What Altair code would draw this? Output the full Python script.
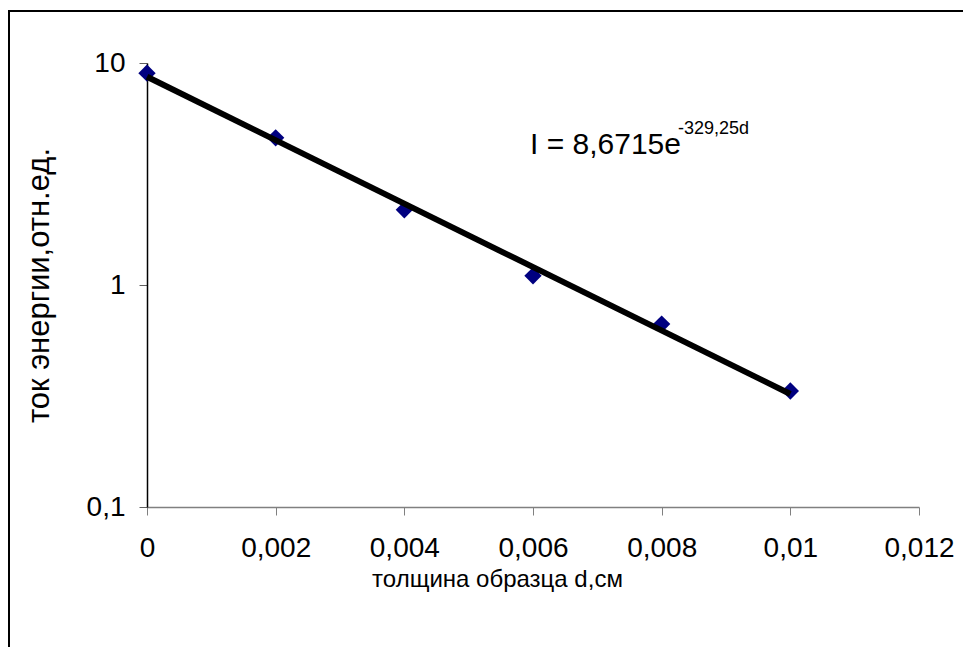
import altair as alt
import pandas as pd

# measured data (thickness d, cm ; relative energy flux)
d_vals = [0.0, 0.002, 0.004, 0.006, 0.008, 0.010]
i_vals = [9.0, 4.6, 2.18, 1.1, 0.667, 0.333]

# exponential trend line end points (I = 8,6715 e^(-329,25 d))
fit_d = [0.0, 0.010]
fit_i = [8.67, 0.323]

x_ticks = [0, 0.002, 0.004, 0.006, 0.008, 0.01, 0.012]
y_ticks = [0.1, 1, 10]

x_title = "толщина образца d,см"
y_title = "ток энергии,отн.ед."
eq_main = "I = 8,6715e"
eq_sup = "-329,25d"

FONT = "Liberation Sans"
W, H = 772, 444

pts = pd.DataFrame({"d": d_vals, "I": i_vals})
fit = pd.DataFrame({"d": fit_d, "I": fit_i})
one = pd.DataFrame({"k": [0]})

xscale = alt.Scale(domain=[0, 0.012], nice=False, zero=False)
yscale = alt.Scale(type="log", domain=[0.1, 10], nice=False)

xaxis = alt.Axis(
    values=x_ticks, grid=False, title=x_title,
    labelExpr="replace(format(datum.value, '~g'), '.', ',')",
    domainColor="#808080", tickColor="#808080", tickSize=8, domainWidth=1.5,
    labelFont=FONT, labelFontSize=28, labelColor="black", labelPadding=19,
    labelFlush=False, labelOverlap=False,
    titleFont=FONT, titleFontSize=24, titleFontWeight="normal", titleColor="black",
    titleX=350, titleY=72, titleBaseline="middle", titleAlign="center",
)
yaxis = alt.Axis(
    values=y_ticks, grid=False, title=y_title,
    labelExpr="replace(format(datum.value, '~g'), '.', ',')",
    domainColor="black", tickColor="#606060", tickSize=8, domainWidth=1.5,
    labelFont=FONT, labelFontSize=28, labelColor="black", labelPadding=14,
    labelFlush=False, labelOverlap=False,
    titleFont=FONT, titleFontSize=31, titleFontWeight="normal", titleColor="black",
    titleX=-108, titleY=222, titleBaseline="middle", titleAlign="center", titleAngle=-90,
)

points = alt.Chart(pts).mark_point(
    shape="diamond", filled=True, color="#000080", size=300, opacity=1
).encode(
    x=alt.X("d:Q", scale=xscale, axis=xaxis),
    y=alt.Y("I:Q", scale=yscale, axis=yaxis),
)

line = alt.Chart(fit).mark_line(color="black", strokeWidth=6).encode(
    x=alt.X("d:Q", scale=xscale),
    y=alt.Y("I:Q", scale=yscale),
)

eq1 = alt.Chart(one).mark_text(
    text=eq_main, font=FONT, fontSize=30, align="left", baseline="alphabetic", color="black"
).encode(x=alt.value(383), y=alt.value(91))

eq2 = alt.Chart(one).mark_text(
    text=eq_sup, font=FONT, fontSize=18, align="left", baseline="alphabetic", color="black"
).encode(x=alt.value(531), y=alt.value(71))

border_left = alt.Chart(one).mark_rule(color="black", strokeWidth=2).encode(
    x=alt.value(-138), y=alt.value(-52), y2=alt.value(H + 140)
)
border_top = alt.Chart(one).mark_rule(color="black", strokeWidth=2).encode(
    x=alt.value(-139), x2=alt.value(W + 44), y=alt.value(-52)
)

chart = alt.layer(border_left, border_top, points, line, eq1, eq2).properties(
    width=W, height=H,
    autosize=alt.AutoSizeParams(type="none"),
    padding={"left": 139, "top": 55, "right": 44, "bottom": 140},
).configure_view(stroke=None)

chart.save("out.html", embed_options={"renderer": "svg", "actions": False})
